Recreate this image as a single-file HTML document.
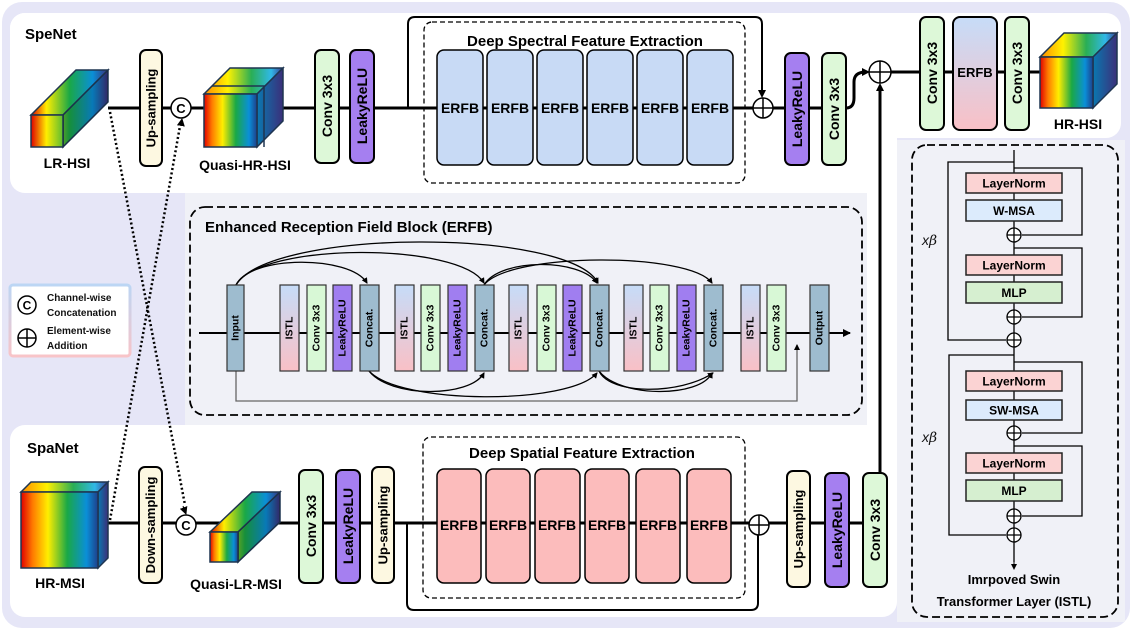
<!DOCTYPE html>
<html><head><meta charset="utf-8"><style>
html,body{margin:0;padding:0;background:#fff;}
svg{display:block;font-family:"Liberation Sans",Arial,sans-serif;font-weight:bold;}
</style></head><body>
<svg width="1132" height="630" viewBox="0 0 1132 630" xmlns="http://www.w3.org/2000/svg">
<defs>
<marker id="ar" markerWidth="8" markerHeight="8" refX="7" refY="4" orient="auto" markerUnits="userSpaceOnUse"><path d="M0,0 L8,4 L0,8 Z" fill="#000"/></marker>
<marker id="ars" markerWidth="6" markerHeight="6" refX="5" refY="3" orient="auto" markerUnits="userSpaceOnUse"><path d="M0,0 L6,3 L0,6 Z" fill="#000"/></marker>
<linearGradient id="rb" x1="0" y1="0" x2="1" y2="0">
<stop offset="0" stop-color="#e00000"/><stop offset="0.15" stop-color="#ff7a00"/><stop offset="0.35" stop-color="#ffee00"/><stop offset="0.6" stop-color="#1aa846"/><stop offset="0.85" stop-color="#0a8fd8"/><stop offset="1" stop-color="#1e3f8a"/></linearGradient>
<linearGradient id="rbt" x1="0" y1="0" x2="1" y2="0">
<stop offset="0" stop-color="#ff8a00"/><stop offset="0.3" stop-color="#fff200"/><stop offset="0.6" stop-color="#2aae55"/><stop offset="0.85" stop-color="#30b8e8"/><stop offset="1" stop-color="#3a3a90"/></linearGradient>
<linearGradient id="side" x1="0" y1="0" x2="1" y2="0"><stop offset="0" stop-color="#0a78b0"/><stop offset="1" stop-color="#3b2f7a"/></linearGradient>
<linearGradient id="lr" gradientUnits="userSpaceOnUse" x1="31" y1="0" x2="108" y2="0">
<stop offset="0" stop-color="#e00000"/><stop offset="0.2" stop-color="#ffee00"/><stop offset="0.5" stop-color="#1aa846"/><stop offset="0.8" stop-color="#0a8fd8"/><stop offset="1" stop-color="#3b2f7a"/></linearGradient>
<linearGradient id="lm" gradientUnits="userSpaceOnUse" x1="210" y1="0" x2="280" y2="0">
<stop offset="0" stop-color="#e00000"/><stop offset="0.2" stop-color="#ffee00"/><stop offset="0.5" stop-color="#1aa846"/><stop offset="0.8" stop-color="#0a8fd8"/><stop offset="1" stop-color="#3b2f7a"/></linearGradient>
<linearGradient id="istl" x1="0" y1="0" x2="0" y2="1"><stop offset="0" stop-color="#c6dcf8"/><stop offset="1" stop-color="#f9c0c6"/></linearGradient>
<linearGradient id="leg" x1="0" y1="0" x2="0" y2="1"><stop offset="0" stop-color="#bcd6f4"/><stop offset="1" stop-color="#f8c4c8"/></linearGradient>
</defs>

<rect x="2" y="2" width="1128" height="626" rx="20" fill="#e6e6f7"/>
<rect x="10" y="13" width="1111" height="125" rx="15" fill="#fff"/>
<rect x="10" y="13" width="887" height="180" rx="15" fill="#fff"/>
<rect x="866" y="120" width="31" height="330" fill="#fff"/>
<rect x="10" y="425" width="887" height="192" rx="15" fill="#fff"/>
<rect x="185" y="193" width="682" height="232" fill="#f0f1f7"/>
<rect x="897" y="140" width="228" height="482" fill="#f0f1f7"/>

<rect x="10" y="285" width="120" height="71" rx="3" fill="#fff" stroke="url(#leg)" stroke-width="3"/>
<circle cx="27" cy="305" r="9" fill="#fff" stroke="#000" stroke-width="1.5"/>
<text x="27" y="309.5" font-size="12" text-anchor="middle">C</text>
<circle cx="27" cy="338" r="9" fill="#fff" stroke="#000" stroke-width="1.5"/>
<path d="M18,338 H36 M27,329 V347" stroke="#000" stroke-width="1.5"/>
<text font-size="10" fill="#111"><tspan x="47" y="301">Channel-wise</tspan><tspan x="47" y="316">Concatenation</tspan><tspan x="47" y="334">Element-wise</tspan><tspan x="47" y="349">Addition</tspan></text>

<text x="25" y="39" font-size="15">SpeNet</text>
<g stroke="#000" stroke-width="3" fill="none">
<path d="M108,108 H840"/>
<path d="M846,108 Q854,108 854,98 V82 Q854,72 866,72"/>
<path d="M891,72 H1040"/>
<path d="M880,473 V86"/>
</g>
<path d="M408,108 V24 Q408,17 415,17 H755 Q762,17 762,24 V96" stroke="#000" stroke-width="2" fill="none"/>
<path d="M762,90 V97" stroke="#000" stroke-width="1" marker-end="url(#ar)"/>
<path d="M862,72 H869" stroke="#000" stroke-width="1" marker-end="url(#ar)"/>
<path d="M880,92 V84" stroke="#000" stroke-width="1" marker-end="url(#ar)"/>

<g stroke="#1f3550" stroke-width="1.5">
<polygon points="31,115 63,115 108,70 76,70" fill="url(#lr)"/>
<polygon points="63,115 108,70 108,102 63,147" fill="url(#lr)"/>
<rect x="31" y="115" width="32" height="32" fill="url(#lr)"/>
</g>
<polygon points="63,115 108,70 108,102 63,147" fill="#000" opacity="0.15"/>
<text x="67" y="168" font-size="14" text-anchor="middle">LR-HSI</text>

<rect x="140" y="50" width="22" height="116" rx="6" fill="#fdf8e1" stroke="#000" stroke-width="2"/>
<text transform="translate(151,108) rotate(-90)" font-size="13" text-anchor="middle" dominant-baseline="central">Up-sampling</text>
<circle cx="181" cy="108" r="10" fill="#fff" stroke="#000" stroke-width="1.5"/>
<text x="181" y="113" font-size="13" text-anchor="middle">C</text>

<g stroke="#1f3550" stroke-width="1.5">
<polygon points="204,94 257,94 283,68 230,68" fill="url(#rbt)"/>
<polygon points="257,94 283,68 283,121 257,147" fill="url(#side)"/>
<rect x="204" y="94" width="53" height="53" fill="url(#rb)"/>
<path d="M212,86 H264 V147" fill="none"/>
</g>
<text x="245" y="170" font-size="14" text-anchor="middle">Quasi-HR-HSI</text>

<rect x="315" y="50" width="24" height="113" rx="6" fill="#ddf8d8" stroke="#000" stroke-width="2"/>
<text transform="translate(327,106) rotate(-90)" font-size="14" text-anchor="middle" dominant-baseline="central">Conv 3x3</text>
<rect x="350" y="50" width="24" height="113" rx="6" fill="#a57ff0" stroke="#000" stroke-width="2"/>
<text transform="translate(362,106) rotate(-90)" font-size="14" text-anchor="middle" dominant-baseline="central">LeakyReLU</text>

<rect x="424" y="22" width="321" height="161" rx="8" fill="none" stroke="#000" stroke-width="1.3" stroke-dasharray="5,3"/>
<text x="585" y="46" font-size="15" text-anchor="middle">Deep Spectral Feature Extraction</text>
<g fill="#c8daf5" stroke="#000" stroke-width="1.5">
<rect x="437" y="50" width="46" height="115" rx="7"/><rect x="487" y="50" width="46" height="115" rx="7"/>
<rect x="537" y="50" width="46" height="115" rx="7"/><rect x="587" y="50" width="46" height="115" rx="7"/>
<rect x="637" y="50" width="46" height="115" rx="7"/><rect x="687" y="50" width="46" height="115" rx="7"/>
</g>
<g font-size="14" text-anchor="middle"><text x="460" y="113">ERFB</text><text x="510" y="113">ERFB</text><text x="560" y="113">ERFB</text><text x="610" y="113">ERFB</text><text x="660" y="113">ERFB</text><text x="710" y="113">ERFB</text></g>

<circle cx="763" cy="108" r="10" fill="#fff" stroke="#000" stroke-width="1.5"/>
<path d="M753,108 H773 M763,98 V118" stroke="#000" stroke-width="1.5"/>
<rect x="785" y="53" width="24" height="112" rx="6" fill="#a57ff0" stroke="#000" stroke-width="2"/>
<text transform="translate(797,109) rotate(-90)" font-size="14" text-anchor="middle" dominant-baseline="central">LeakyReLU</text>
<rect x="822" y="53" width="24" height="112" rx="6" fill="#ddf8d8" stroke="#000" stroke-width="2"/>
<text transform="translate(834,109) rotate(-90)" font-size="14" text-anchor="middle" dominant-baseline="central">Conv 3x3</text>
<circle cx="880" cy="72" r="11" fill="#fff" stroke="#000" stroke-width="1.5"/>
<path d="M869,72 H891 M880,61 V83" stroke="#000" stroke-width="1.5"/>

<rect x="920" y="17" width="24" height="113" rx="6" fill="#ddf8d8" stroke="#000" stroke-width="2"/>
<text transform="translate(932,73) rotate(-90)" font-size="14" text-anchor="middle" dominant-baseline="central">Conv 3x3</text>
<rect x="953" y="17" width="44" height="113" rx="7" fill="url(#istl)" stroke="#000" stroke-width="2"/>
<text x="975" y="77" font-size="13" text-anchor="middle">ERFB</text>
<rect x="1005" y="17" width="24" height="113" rx="6" fill="#ddf8d8" stroke="#000" stroke-width="2"/>
<text transform="translate(1017,73) rotate(-90)" font-size="14" text-anchor="middle" dominant-baseline="central">Conv 3x3</text>
<g stroke="#1f3550" stroke-width="1.5">
<polygon points="1040,57 1093,57 1117,33 1064,33" fill="url(#rbt)"/>
<polygon points="1093,57 1117,33 1117,84 1093,108" fill="url(#side)"/>
<rect x="1040" y="57" width="53" height="51" fill="url(#rb)"/>
</g>
<text x="1078" y="129" font-size="14" text-anchor="middle">HR-HSI</text>

<path d="M110,112 L185,505" stroke="#000" stroke-width="2.5" stroke-dasharray="2,2.5" fill="none"/>
<path d="M183,506 L186,514" stroke="#000" stroke-width="1" marker-end="url(#ar)"/>
<path d="M110,520 L180,126" stroke="#000" stroke-width="2.5" stroke-dasharray="2,2.5" fill="none"/>
<path d="M181,125 L182,119" stroke="#000" stroke-width="1" marker-end="url(#ar)"/>

<rect x="190" y="207" width="672" height="208" rx="15" fill="none" stroke="#000" stroke-width="1.8" stroke-dasharray="8,4"/>
<text x="205" y="232" font-size="15">Enhanced Reception Field Block (ERFB)</text>
<path d="M199,333 H850" stroke="#000" stroke-width="2" marker-end="url(#ar)"/>
<path d="M236,371 V401 H797 V345" stroke="#666" stroke-width="1.3" fill="none" marker-end="url(#ars)"/>
<g stroke="#000" stroke-width="1.3" fill="none" marker-end="url(#ars)">
<path d="M236,285 C250,255 350,255 367,283"/>
<path d="M236,285 C260,242 460,242 484,283"/>
<path d="M236,285 C270,228 570,228 598,283"/>
<path d="M484,285 C510,252 690,252 712,283"/>
<path d="M484,285 C500,258 580,258 597,283"/>
<path d="M369,371 C390,398 470,398 484,373"/>
<path d="M369,371 C400,405 570,405 597,373"/>
<path d="M599,371 C620,398 700,398 712,373"/>
<path d="M599,371 C610,395 680,395 713,373"/>
</g>
<g stroke="#333" stroke-width="1.2">
<rect x="227" y="285" width="17" height="86" fill="#9ebccf"/>
<rect x="280" y="285" width="19" height="86" fill="url(#istl)"/>
<rect x="307" y="285" width="19" height="86" fill="#d8f8d6"/>
<rect x="333" y="285" width="19" height="86" fill="#a07ef0"/>
<rect x="360" y="285" width="19" height="86" fill="#9ebccf"/>
<rect x="395" y="285" width="19" height="86" fill="url(#istl)"/>
<rect x="421" y="285" width="19" height="86" fill="#d8f8d6"/>
<rect x="448" y="285" width="19" height="86" fill="#a07ef0"/>
<rect x="475" y="285" width="19" height="86" fill="#9ebccf"/>
<rect x="509" y="285" width="19" height="86" fill="url(#istl)"/>
<rect x="537" y="285" width="19" height="86" fill="#d8f8d6"/>
<rect x="563" y="285" width="19" height="86" fill="#a07ef0"/>
<rect x="590" y="285" width="19" height="86" fill="#9ebccf"/>
<rect x="624" y="285" width="19" height="86" fill="url(#istl)"/>
<rect x="650" y="285" width="19" height="86" fill="#d8f8d6"/>
<rect x="677" y="285" width="19" height="86" fill="#a07ef0"/>
<rect x="704" y="285" width="19" height="86" fill="#9ebccf"/>
<rect x="741" y="285" width="19" height="86" fill="url(#istl)"/>
<rect x="767" y="285" width="19" height="86" fill="#d8f8d6"/>
<rect x="810" y="285" width="19" height="86" fill="#9ebccf"/>
</g>
<g font-size="10.5" text-anchor="middle" dominant-baseline="central">
<text transform="translate(235.5,328) rotate(-90)">Input</text>
<text transform="translate(289.5,328) rotate(-90)">ISTL</text>
<text transform="translate(316.5,328) rotate(-90)">Conv 3x3</text>
<text transform="translate(342.5,328) rotate(-90)">LeakyReLU</text>
<text transform="translate(369.5,328) rotate(-90)">Concat.</text>
<text transform="translate(404.5,328) rotate(-90)">ISTL</text>
<text transform="translate(430.5,328) rotate(-90)">Conv 3x3</text>
<text transform="translate(457.5,328) rotate(-90)">LeakyReLU</text>
<text transform="translate(484.5,328) rotate(-90)">Concat.</text>
<text transform="translate(518.5,328) rotate(-90)">ISTL</text>
<text transform="translate(546.5,328) rotate(-90)">Conv 3x3</text>
<text transform="translate(572.5,328) rotate(-90)">LeakyReLU</text>
<text transform="translate(599.5,328) rotate(-90)">Concat.</text>
<text transform="translate(633.5,328) rotate(-90)">ISTL</text>
<text transform="translate(659.5,328) rotate(-90)">Conv 3x3</text>
<text transform="translate(686.5,328) rotate(-90)">LeakyReLU</text>
<text transform="translate(713.5,328) rotate(-90)">Concat.</text>
<text transform="translate(750.5,328) rotate(-90)">ISTL</text>
<text transform="translate(776.5,328) rotate(-90)">Conv 3x3</text>
<text transform="translate(819.5,328) rotate(-90)">Output</text>
</g>

<text x="27" y="453" font-size="15">SpaNet</text>
<path d="M98,523 H870" stroke="#000" stroke-width="3" fill="none"/>
<path d="M407,523 V603 Q407,610 414,610 H751 Q758,610 758,603 V535" stroke="#000" stroke-width="2" fill="none"/>
<g stroke="#1f3550" stroke-width="1.5">
<polygon points="21,492 98,492 108,482 31,482" fill="url(#rbt)"/>
<polygon points="98,492 108,482 108,558 98,568" fill="url(#side)"/>
<rect x="21" y="492" width="77" height="76" fill="url(#rb)"/>
</g>
<text x="60" y="588" font-size="14" text-anchor="middle">HR-MSI</text>
<rect x="139" y="467" width="23" height="116" rx="6" fill="#fdf8e1" stroke="#000" stroke-width="2"/>
<text transform="translate(150.5,525) rotate(-90)" font-size="13" text-anchor="middle" dominant-baseline="central">Down-sampling</text>
<circle cx="186" cy="525" r="10" fill="#fff" stroke="#000" stroke-width="1.5"/>
<text x="186" y="530" font-size="13" text-anchor="middle">C</text>
<g stroke="#1f3550" stroke-width="1.5">
<polygon points="210,532 238,532 280,492 252,492" fill="url(#lm)"/>
<polygon points="238,532 280,492 280,522 238,562" fill="url(#lm)"/>
<rect x="210" y="532" width="28" height="30" fill="url(#rb)"/>
</g>
<polygon points="238,532 280,492 280,522 238,562" fill="#000" opacity="0.15"/>
<text x="236" y="589" font-size="14" text-anchor="middle">Quasi-LR-MSI</text>
<rect x="299" y="470" width="24" height="113" rx="6" fill="#ddf8d8" stroke="#000" stroke-width="2"/>
<text transform="translate(311,526) rotate(-90)" font-size="14" text-anchor="middle" dominant-baseline="central">Conv 3x3</text>
<rect x="336" y="470" width="24" height="113" rx="6" fill="#a57ff0" stroke="#000" stroke-width="2"/>
<text transform="translate(348,526) rotate(-90)" font-size="14" text-anchor="middle" dominant-baseline="central">LeakyReLU</text>
<rect x="372" y="467" width="22" height="116" rx="6" fill="#fdf8e1" stroke="#000" stroke-width="2"/>
<text transform="translate(383,525) rotate(-90)" font-size="13" text-anchor="middle" dominant-baseline="central">Up-sampling</text>

<rect x="423" y="437" width="322" height="161" rx="8" fill="none" stroke="#000" stroke-width="1.3" stroke-dasharray="5,3"/>
<text x="582" y="458" font-size="15" text-anchor="middle">Deep Spatial Feature Extraction</text>
<g fill="#fcbcbc" stroke="#000" stroke-width="1.5">
<rect x="437" y="469" width="44" height="114" rx="7"/><rect x="486" y="469" width="44" height="114" rx="7"/>
<rect x="535" y="469" width="45" height="114" rx="7"/><rect x="585" y="469" width="44" height="114" rx="7"/>
<rect x="636" y="469" width="44" height="114" rx="7"/><rect x="687" y="469" width="44" height="114" rx="7"/>
</g>
<g font-size="14" text-anchor="middle"><text x="459" y="530">ERFB</text><text x="508" y="530">ERFB</text><text x="557" y="530">ERFB</text><text x="607" y="530">ERFB</text><text x="658" y="530">ERFB</text><text x="709" y="530">ERFB</text></g>
<circle cx="759" cy="525" r="10" fill="#fff" stroke="#000" stroke-width="1.5"/>
<path d="M749,525 H769 M759,515 V535" stroke="#000" stroke-width="1.5"/>
<rect x="787" y="471" width="23" height="116" rx="6" fill="#fdf8e1" stroke="#000" stroke-width="2"/>
<text transform="translate(798.5,529) rotate(-90)" font-size="13" text-anchor="middle" dominant-baseline="central">Up-sampling</text>
<rect x="825" y="473" width="24" height="114" rx="6" fill="#a57ff0" stroke="#000" stroke-width="2"/>
<text transform="translate(837,530) rotate(-90)" font-size="14" text-anchor="middle" dominant-baseline="central">LeakyReLU</text>
<rect x="863" y="473" width="24" height="114" rx="6" fill="#ddf8d8" stroke="#000" stroke-width="2"/>
<text transform="translate(875,530) rotate(-90)" font-size="14" text-anchor="middle" dominant-baseline="central">Conv 3x3</text>

<rect x="912" y="145" width="206" height="472" rx="15" fill="none" stroke="#000" stroke-width="1.8" stroke-dasharray="8,4"/>
<g stroke="#000" stroke-width="1.3" fill="none">
<path d="M1014,150 V562"/>
<path d="M1014,162 H948 V340 H1006"/>
<path d="M1014,168 H1082 V235 H1022"/>
<path d="M1014,248 H1082 V317 H1022"/>
<path d="M1014,355 H949 V535 H1006"/>
<path d="M1014,362 H1082 V433 H1022"/>
<path d="M1014,446 H1082 V516 H1022"/>
</g>
<path d="M1014,560 V569" stroke="#000" stroke-width="1" marker-end="url(#ars)"/>
<g stroke="#222" stroke-width="1.5">
<rect x="966" y="173" width="96" height="20" fill="#fbd3d3"/>
<rect x="966" y="200" width="96" height="21" fill="#dcebfc"/>
<rect x="966" y="255" width="96" height="20" fill="#fbd3d3"/>
<rect x="966" y="282" width="96" height="21" fill="#d6efd0"/>
<rect x="966" y="371" width="96" height="20" fill="#fbd3d3"/>
<rect x="966" y="400" width="96" height="20" fill="#dcebfc"/>
<rect x="966" y="453" width="96" height="20" fill="#fbd3d3"/>
<rect x="966" y="480" width="96" height="21" fill="#d6efd0"/>
</g>
<g font-size="12" text-anchor="middle">
<text x="1014" y="187.5">LayerNorm</text><text x="1014" y="215">W-MSA</text>
<text x="1014" y="269.5">LayerNorm</text><text x="1014" y="297">MLP</text>
<text x="1014" y="385.5">LayerNorm</text><text x="1014" y="414.5">SW-MSA</text>
<text x="1014" y="467.5">LayerNorm</text><text x="1014" y="495">MLP</text>
</g>
<g fill="#fff" stroke="#000" stroke-width="1.3">
<circle cx="1014" cy="235" r="7"/><circle cx="1014" cy="317" r="7"/><circle cx="1014" cy="340" r="7"/>
<circle cx="1014" cy="433" r="7"/><circle cx="1014" cy="516" r="7"/><circle cx="1014" cy="535" r="7"/>
</g>
<g stroke="#000" stroke-width="1.3">
<path d="M1007,235 H1021 M1007,317 H1021 M1007,340 H1021 M1007,433 H1021 M1007,516 H1021 M1007,535 H1021"/>
<path d="M1014,228 V242 M1014,310 V324 M1014,333 V347 M1014,426 V440 M1014,509 V523 M1014,528 V542"/>
</g>
<g font-size="14" font-style="italic" font-weight="normal" fill="#111">
<text x="922" y="245">x<tspan font-family="DejaVu Serif, serif">β</tspan></text>
<text x="922" y="442">x<tspan font-family="DejaVu Serif, serif">β</tspan></text>
</g>
<text x="1014" y="584" font-size="13" text-anchor="middle">Imrpoved Swin</text>
<text x="1014" y="606" font-size="13" text-anchor="middle">Transformer Layer (ISTL)</text>
</svg>
</body></html>
